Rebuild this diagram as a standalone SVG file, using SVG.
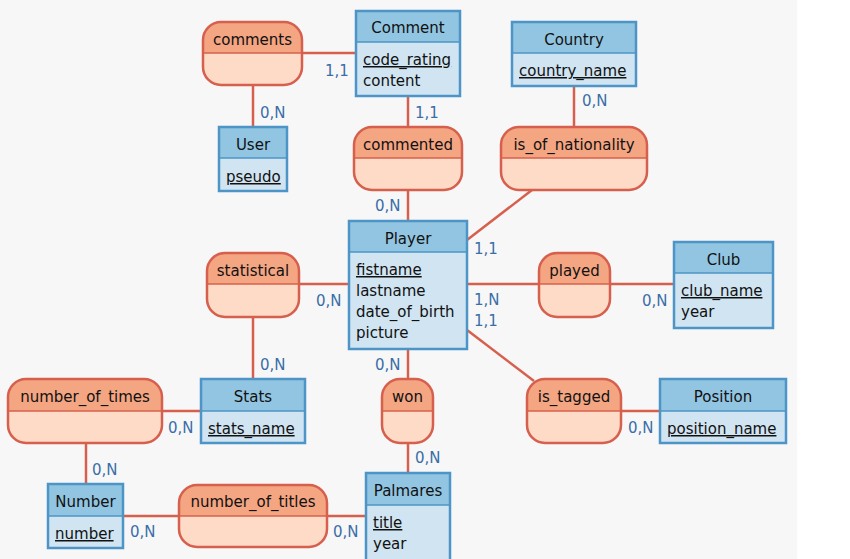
<svg xmlns="http://www.w3.org/2000/svg" width="850" height="559" viewBox="0 0 850 559">
<style>
text{font-family:"DejaVu Sans",Verdana,sans-serif;font-size:15px;fill:#111}
.t{text-anchor:middle}
.u{text-decoration:underline}
.c{font-size:15px;fill:#3a6ea8}
.eh{fill:#92c5e1;stroke:none}
.eb{fill:#d0e4f2;stroke:none}
.eo{fill:none;stroke:#4d95c6;stroke-width:2.5}
.sep{stroke:#4d95c6;stroke-width:1.5}
.ah{fill:#f4a582}
.ab{fill:#fddbc7}
.ao{fill:none;stroke:#d6604d;stroke-width:2.5}
.asep{stroke:#d6604d;stroke-width:1.5}
.ln{stroke:#d6604d;stroke-width:2.5;fill:none}
</style>
<rect x="0" y="0" width="797" height="559" fill="#f7f7f7"/>
<rect x="797" y="0" width="53" height="559" fill="#ffffff"/>

<g id="connectors">
<line class="ln" x1="302" y1="53" x2="356" y2="53"/>
<line class="ln" x1="253" y1="85" x2="253" y2="127"/>
<line class="ln" x1="408" y1="96" x2="408" y2="127"/>
<line class="ln" x1="574" y1="86" x2="574" y2="127"/>
<line class="ln" x1="408" y1="190" x2="408" y2="221"/>
<line class="ln" x1="532" y1="190" x2="467" y2="240"/>
<line class="ln" x1="299" y1="284" x2="349" y2="284"/>
<line class="ln" x1="467" y1="284" x2="539" y2="284"/>
<line class="ln" x1="610" y1="284" x2="674" y2="284"/>
<line class="ln" x1="467" y1="330" x2="534" y2="381"/>
<line class="ln" x1="621" y1="411" x2="660" y2="411"/>
<line class="ln" x1="253" y1="317" x2="253" y2="379"/>
<line class="ln" x1="408" y1="349" x2="408" y2="379"/>
<line class="ln" x1="408" y1="443" x2="408" y2="473"/>
<line class="ln" x1="162" y1="411" x2="201" y2="411"/>
<line class="ln" x1="86" y1="443" x2="86" y2="484"/>
<line class="ln" x1="123" y1="516" x2="179" y2="516"/>
<line class="ln" x1="327" y1="516" x2="366" y2="516"/>
<text class="c" x="325" y="76">1,1</text>
<text class="c" x="260" y="118">0,N</text>
<text class="c" x="415" y="118">1,1</text>
<text class="c" x="582" y="106">0,N</text>
<text class="c" x="375" y="211">0,N</text>
<text class="c" x="474" y="254">1,1</text>
<text class="c" x="316" y="306">0,N</text>
<text class="c" x="474" y="305">1,N</text>
<text class="c" x="474" y="326">1,1</text>
<text class="c" x="642" y="306">0,N</text>
<text class="c" x="260" y="370">0,N</text>
<text class="c" x="375" y="370">0,N</text>
<text class="c" x="628" y="433">0,N</text>
<text class="c" x="168" y="433">0,N</text>
<text class="c" x="92" y="475">0,N</text>
<text class="c" x="130" y="537">0,N</text>
<text class="c" x="415" y="463">0,N</text>
<text class="c" x="333" y="537">0,N</text>
</g>

<g id="comments">
<rect class="ab" x="203" y="22" width="99" height="63" rx="18"/>
<path class="ah" d="M203,53 V40 A18,18 0 0 1 221,22 H284 A18,18 0 0 1 302,40 V53 Z"/>
<line class="asep" x1="203" y1="53" x2="302" y2="53"/>
<rect class="ao" x="203" y="22" width="99" height="63" rx="18"/>
<text class="t" x="252.5" y="45">comments</text>
</g>
<g id="commented">
<rect class="ab" x="354" y="127" width="108" height="63" rx="18"/>
<path class="ah" d="M354,158 V145 A18,18 0 0 1 372,127 H444 A18,18 0 0 1 462,145 V158 Z"/>
<line class="asep" x1="354" y1="158" x2="462" y2="158"/>
<rect class="ao" x="354" y="127" width="108" height="63" rx="18"/>
<text class="t" x="408" y="150">commented</text>
</g>
<g id="is_of_nationality">
<rect class="ab" x="501" y="127" width="146" height="63" rx="18"/>
<path class="ah" d="M501,158 V145 A18,18 0 0 1 519,127 H629 A18,18 0 0 1 647,145 V158 Z"/>
<line class="asep" x1="501" y1="158" x2="647" y2="158"/>
<rect class="ao" x="501" y="127" width="146" height="63" rx="18"/>
<text class="t" x="574" y="150">is_of_nationality</text>
</g>
<g id="statistical">
<rect class="ab" x="207" y="253" width="92" height="64" rx="18"/>
<path class="ah" d="M207,284 V271 A18,18 0 0 1 225,253 H281 A18,18 0 0 1 299,271 V284 Z"/>
<line class="asep" x1="207" y1="284" x2="299" y2="284"/>
<rect class="ao" x="207" y="253" width="92" height="64" rx="18"/>
<text class="t" x="253" y="276">statistical</text>
</g>
<g id="played">
<rect class="ab" x="539" y="253" width="71" height="64" rx="18"/>
<path class="ah" d="M539,284 V271 A18,18 0 0 1 557,253 H592 A18,18 0 0 1 610,271 V284 Z"/>
<line class="asep" x1="539" y1="284" x2="610" y2="284"/>
<rect class="ao" x="539" y="253" width="71" height="64" rx="18"/>
<text class="t" x="574.5" y="276">played</text>
</g>
<g id="is_tagged">
<rect class="ab" x="527" y="379" width="94" height="64" rx="18"/>
<path class="ah" d="M527,411 V397 A18,18 0 0 1 545,379 H603 A18,18 0 0 1 621,397 V411 Z"/>
<line class="asep" x1="527" y1="411" x2="621" y2="411"/>
<rect class="ao" x="527" y="379" width="94" height="64" rx="18"/>
<text class="t" x="574" y="402">is_tagged</text>
</g>
<g id="number_of_times">
<rect class="ab" x="8" y="379" width="154" height="64" rx="18"/>
<path class="ah" d="M8,411 V397 A18,18 0 0 1 26,379 H144 A18,18 0 0 1 162,397 V411 Z"/>
<line class="asep" x1="8" y1="411" x2="162" y2="411"/>
<rect class="ao" x="8" y="379" width="154" height="64" rx="18"/>
<text class="t" x="85" y="402">number_of_times</text>
</g>
<g id="won">
<rect class="ab" x="382" y="379" width="51" height="64" rx="18"/>
<path class="ah" d="M382,411 V397 A18,18 0 0 1 400,379 H415 A18,18 0 0 1 433,397 V411 Z"/>
<line class="asep" x1="382" y1="411" x2="433" y2="411"/>
<rect class="ao" x="382" y="379" width="51" height="64" rx="18"/>
<text class="t" x="407.5" y="402">won</text>
</g>
<g id="number_of_titles">
<rect class="ab" x="179" y="485" width="148" height="62" rx="18"/>
<path class="ah" d="M179,516 V503 A18,18 0 0 1 197,485 H309 A18,18 0 0 1 327,503 V516 Z"/>
<line class="asep" x1="179" y1="516" x2="327" y2="516"/>
<rect class="ao" x="179" y="485" width="148" height="62" rx="18"/>
<text class="t" x="253" y="507">number_of_titles</text>
</g>

<g id="Comment">
<rect class="eb" x="356" y="11" width="104" height="85"/>
<rect class="eh" x="356" y="11" width="104" height="31"/>
<line class="sep" x1="356" y1="42" x2="460" y2="42"/>
<rect class="eo" x="356" y="11" width="104" height="85"/>
<text class="t" x="408" y="33">Comment</text>
<text class="u" x="363" y="65">code_rating</text>
<text x="363" y="86">content</text>
</g>
<g id="User">
<rect class="eb" x="219" y="127" width="68" height="64"/>
<rect class="eh" x="219" y="127" width="68" height="31"/>
<line class="sep" x1="219" y1="158" x2="287" y2="158"/>
<rect class="eo" x="219" y="127" width="68" height="64"/>
<text class="t" x="253" y="150">User</text>
<text class="u" x="226" y="182">pseudo</text>
</g>
<g id="Country">
<rect class="eb" x="512" y="22" width="124" height="64"/>
<rect class="eh" x="512" y="22" width="124" height="31"/>
<line class="sep" x1="512" y1="53" x2="636" y2="53"/>
<rect class="eo" x="512" y="22" width="124" height="64"/>
<text class="t" x="574" y="45">Country</text>
<text class="u" x="519" y="76">country_name</text>
</g>
<g id="Player">
<rect class="eb" x="349" y="221" width="118" height="128"/>
<rect class="eh" x="349" y="221" width="118" height="31"/>
<line class="sep" x1="349" y1="252" x2="467" y2="252"/>
<rect class="eo" x="349" y="221" width="118" height="128"/>
<text class="t" x="408" y="244">Player</text>
<text class="u" x="356" y="275">fistname</text>
<text x="356" y="296">lastname</text>
<text x="356" y="317">date_of_birth</text>
<text x="356" y="338">picture</text>
</g>
<g id="Club">
<rect class="eb" x="674" y="242" width="99" height="86"/>
<rect class="eh" x="674" y="242" width="99" height="31"/>
<line class="sep" x1="674" y1="273" x2="773" y2="273"/>
<rect class="eo" x="674" y="242" width="99" height="86"/>
<text class="t" x="723.5" y="265">Club</text>
<text class="u" x="681" y="296">club_name</text>
<text x="681" y="317">year</text>
</g>
<g id="Position">
<rect class="eb" x="660" y="379" width="126" height="64"/>
<rect class="eh" x="660" y="379" width="126" height="32"/>
<line class="sep" x1="660" y1="411" x2="786" y2="411"/>
<rect class="eo" x="660" y="379" width="126" height="64"/>
<text class="t" x="723" y="402">Position</text>
<text class="u" x="667" y="434">position_name</text>
</g>
<g id="Stats">
<rect class="eb" x="201" y="379" width="104" height="64"/>
<rect class="eh" x="201" y="379" width="104" height="32"/>
<line class="sep" x1="201" y1="411" x2="305" y2="411"/>
<rect class="eo" x="201" y="379" width="104" height="64"/>
<text class="t" x="253" y="402">Stats</text>
<text class="u" x="208" y="434">stats_name</text>
</g>
<g id="Number">
<rect class="eb" x="48" y="484" width="75" height="64"/>
<rect class="eh" x="48" y="484" width="75" height="32"/>
<line class="sep" x1="48" y1="516" x2="123" y2="516"/>
<rect class="eo" x="48" y="484" width="75" height="64"/>
<text class="t" x="85.5" y="507">Number</text>
<text class="u" x="55" y="539">number</text>
</g>
<g id="Palmares">
<rect class="eb" x="366" y="473" width="84" height="90"/>
<rect class="eh" x="366" y="473" width="84" height="32"/>
<line class="sep" x1="366" y1="505" x2="450" y2="505"/>
<rect class="eo" x="366" y="473" width="84" height="90"/>
<text class="t" x="408" y="496">Palmares</text>
<text class="u" x="373" y="528">title</text>
<text x="373" y="549">year</text>
</g>
</svg>
